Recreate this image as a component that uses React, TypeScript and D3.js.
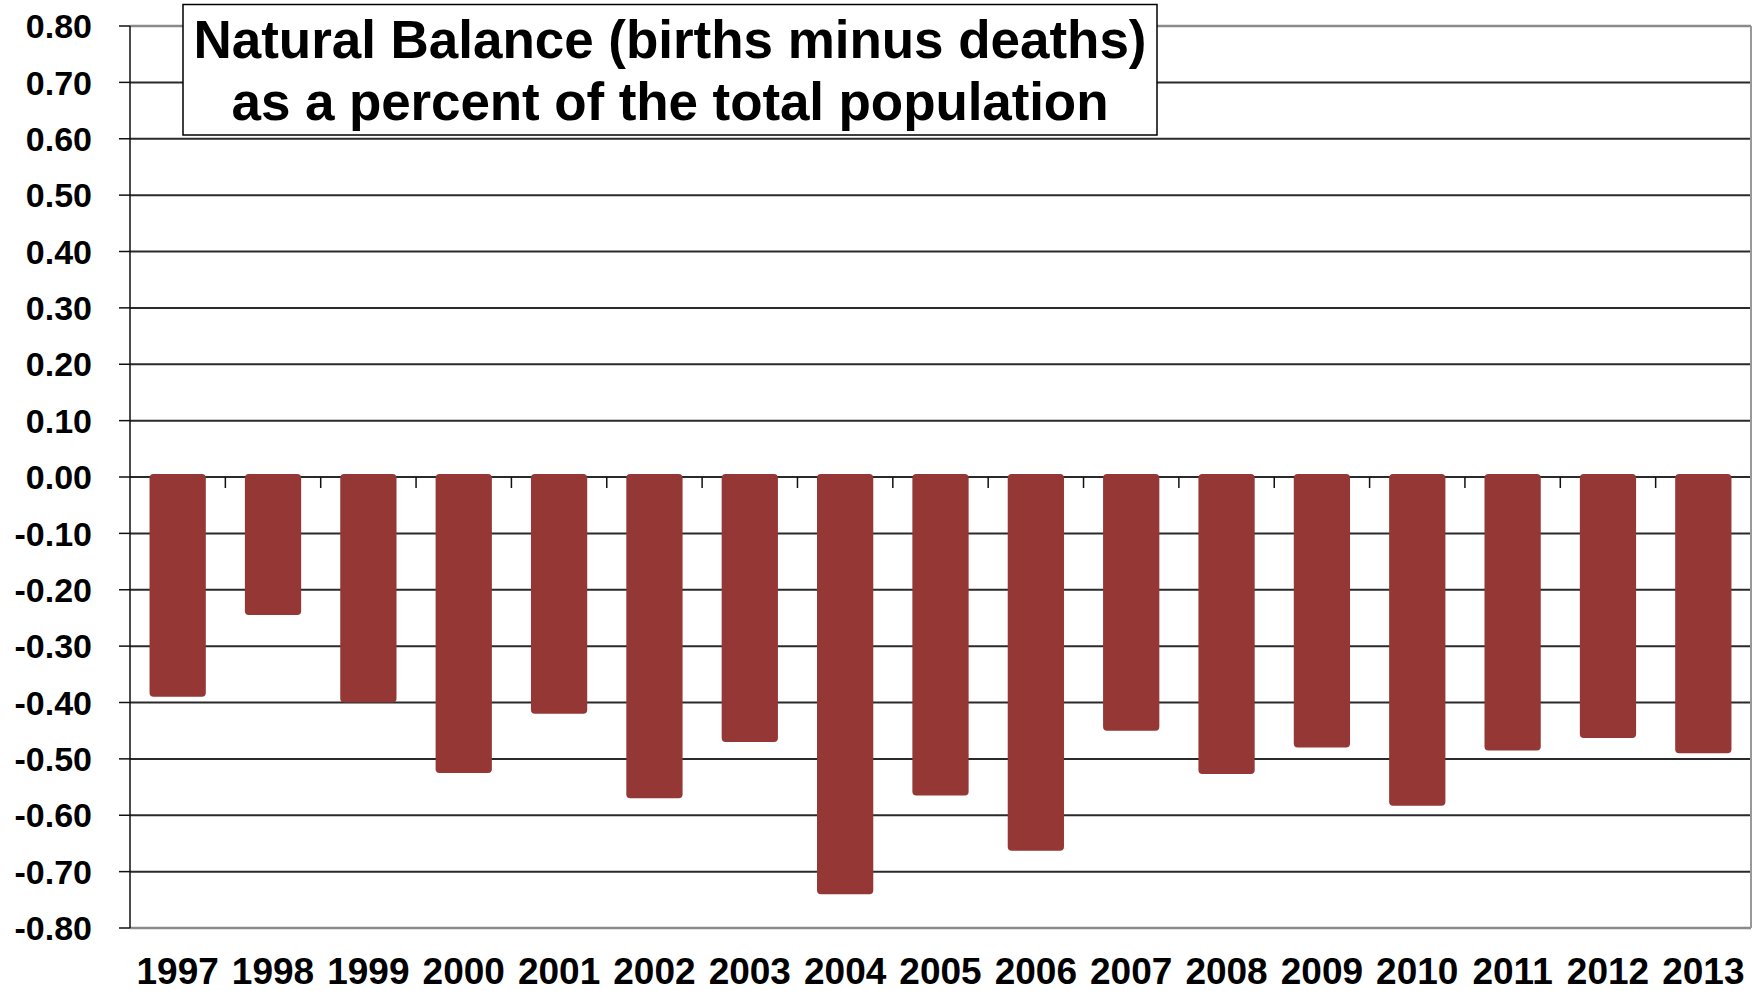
import React from "react";
import * as d3 from "d3";

const years = ["1997","1998","1999","2000","2001","2002","2003","2004","2005","2006","2007","2008","2009","2010","2011","2012","2013"];
const balance = [-0.39,-0.245,-0.40,-0.525,-0.42,-0.57,-0.47,-0.74,-0.565,-0.663,-0.45,-0.527,-0.48,-0.583,-0.485,-0.463,-0.49];
const yTicks = [0.8,0.7,0.6,0.5,0.4,0.3,0.2,0.1,0,-0.1,-0.2,-0.3,-0.4,-0.5,-0.6,-0.7,-0.8];
const titleLines = ["Natural Balance (births minus deaths)", "as a percent of the total population"];

const W = 1762, H = 991;
const left = 130, right = 1751, top = 26, bottom = 928;
const FONT = "'Liberation Sans', Arial, sans-serif";

export default function App() {
  const x = d3.scaleBand<string>().domain(years).range([left, right]).paddingInner(0.41).paddingOuter(0.205);
  const y = d3.scaleLinear().domain([-0.8, 0.8]).range([bottom, top]);
  const step = x.step();
  const y0 = y(0);
  return (
    <svg width={W} height={H} style={{ position: "absolute", left: 0, top: 0, background: "#fff" }} fontFamily={FONT}>
      <rect x={0} y={0} width={W} height={H} fill="#fff" />
      {/* gridlines */}
      {yTicks.map((t, i) => {
        const edge = t === 0.8 || t === -0.8;
        return (
          <g key={i}>
            <line x1={left} x2={right} y1={y(t)} y2={y(t)} stroke={edge ? "#8a8a8a" : "#2a2a2a"} strokeWidth={edge ? 2.5 : 2} />
            <line x1={left - 11} x2={left} y1={y(t)} y2={y(t)} stroke="#111" strokeWidth={1.5} />
            <text x={92} y={y(t)} dy="0.36em" textAnchor="end" fontSize={34} fontWeight="bold" fill="#000">
              {t.toFixed(2)}
            </text>
          </g>
        );
      })}
      <line x1={right} x2={right} y1={top} y2={bottom} stroke="#999" strokeWidth={2} />
      {/* x ticks */}
      {years.slice(1).map((yr, i) => {
        const xx = left + (i + 1) * step;
        return <line key={yr} x1={xx} x2={xx} y1={y0} y2={y0 + 11} stroke="#111" strokeWidth={1.5} />;
      })}
      {/* bars */}
      {years.map((yr, i) => (
        <rect key={yr} x={x(yr)} y={y0 - 3} width={x.bandwidth()} height={y(balance[i]) - y0 + 3} rx={4} ry={4} fill="#943735" />
      ))}
      <line x1={left} x2={left} y1={top} y2={bottom} stroke="#111" strokeWidth={1.5} />
      {/* x labels */}
      {years.map((yr) => (
        <text key={yr} x={(x(yr) as number) + x.bandwidth() / 2} y={984} textAnchor="middle" fontSize={37} fontWeight="bold" fill="#000">
          {yr}
        </text>
      ))}
      {/* title */}
      <rect x={183} y={4.5} width={974} height={130.5} fill="#fff" stroke="#000" strokeWidth={1.5} />
      <text x={670} y={58} textAnchor="middle" fontSize={53} fontWeight="bold" textLength={953} lengthAdjust="spacing" fill="#000">
        {titleLines[0]}
      </text>
      <text x={670} y={120} textAnchor="middle" fontSize={53} fontWeight="bold" textLength={877} lengthAdjust="spacing" fill="#000">
        {titleLines[1]}
      </text>
    </svg>
  );
}
